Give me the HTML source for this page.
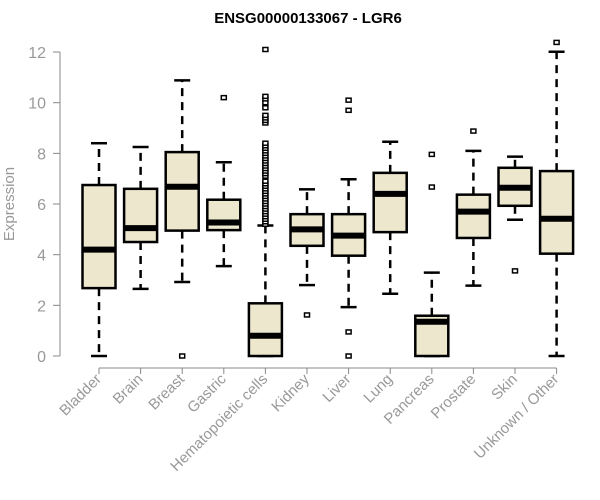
<!DOCTYPE html>
<html><head><meta charset="utf-8"><style>
body{margin:0;background:#fff;}
svg{display:block;font-family:"Liberation Sans",Arial,sans-serif;}
</style></head><body>
<svg id="chart" width="600" height="500" viewBox="0 0 600 500" xmlns="http://www.w3.org/2000/svg">
<text x="308" y="23" text-anchor="middle" font-size="15" font-weight="bold" fill="#000">ENSG00000133067 - LGR6</text>
<text transform="translate(14,204) rotate(-90)" text-anchor="middle" font-size="15" fill="#999">Expression</text>
<g id="plot"></g>
</svg>
<script>
const categories=["Bladder","Brain","Breast","Gastric","Hematopoietic cells","Kidney","Liver","Lung","Pancreas","Prostate","Skin","Unknown / Other"];
const whiskerLow=[0,2.65,2.92,3.55,0,2.8,1.93,2.46,0,2.78,5.38,0];
const q1=[2.68,4.5,4.95,4.97,0,4.35,3.96,4.89,0,4.66,5.93,4.04];
const median=[4.2,5.05,6.68,5.27,0.8,5.0,4.75,6.4,1.35,5.7,6.64,5.42];
const q3=[6.75,6.6,8.05,6.17,2.08,5.6,5.6,7.23,1.59,6.37,7.43,7.3];
const whiskerHigh=[8.4,8.25,10.88,7.65,5.15,6.58,6.98,8.46,3.29,8.1,7.87,12.01];
const outliers=[[],[],[0],[10.2],
[5.2,5.3,5.4,5.5,5.6,5.7,5.8,5.9,6.0,6.1,6.2,6.3,6.4,6.5,6.6,6.7,6.8,6.9,7.1,7.2,7.3,7.4,7.5,7.6,7.7,7.8,7.9,8.0,8.1,8.2,8.3,8.4,9.2,9.3,9.4,9.5,9.8,10.0,10.15,10.25,12.1],
[1.62],[0,0.95,9.7,10.1],[],[6.67,7.96],[8.88],[3.36],[12.38]];
const yTicks=[0,2,4,6,8,10,12];
const NS="http://www.w3.org/2000/svg";
const g=document.getElementById('plot');
const y=v=>356-v*25.33;
const x=i=>99+i*41.6;
function el(t,a){const e=document.createElementNS(NS,t);for(const k in a)e.setAttribute(k,a[k]);g.appendChild(e);return e;}
let ax=el('line',{x1:60,x2:60,y1:y(0),y2:y(12),stroke:'#888'});


yTicks.forEach(t=>{
 let l=el('line',{x1:53,x2:60,y1:y(t),y2:y(t),stroke:'#888'});
 
 
 let tx=el('text',{x:46,y:y(t)+6,'text-anchor':'end','font-size':16,fill:'#999'});tx.textContent=t;
 
 
});
let xa=el('line',{x1:x(0),x2:x(categories.length-1),y1:368,y2:368,stroke:'#888'});


categories.forEach((c,i)=>{
 const cx=x(i),w=16.5;
 let t=el('line',{x1:cx,x2:cx,y1:368,y2:374,stroke:'#888'});
 
 
 let lb=el('text',{transform:`translate(${cx+3},${380}) rotate(-45)`,'text-anchor':'end','font-size':15,fill:'#999'});lb.textContent=c;
 
 
 const dash={stroke:'#000','stroke-width':2.5,'stroke-dasharray':'8,6'};
 let w1=el('line',Object.assign({x1:cx,x2:cx,y1:y(q3[i]),y2:y(whiskerHigh[i])},dash));
 
 
 let w2=el('line',Object.assign({x1:cx,x2:cx,y1:y(q1[i]),y2:y(whiskerLow[i])},dash));
 
 
 let c1=el('line',{x1:cx-8,x2:cx+8,y1:y(whiskerHigh[i]),y2:y(whiskerHigh[i]),stroke:'#000','stroke-width':2.5});
 
 
 let c2=el('line',{x1:cx-8,x2:cx+8,y1:y(whiskerLow[i]),y2:y(whiskerLow[i]),stroke:'#000','stroke-width':2.5});
 
 
 let b=el('rect',{x:cx-w,y:y(q3[i]),width:2*w,height:y(q1[i])-y(q3[i]),fill:'#ede7cd',stroke:'#000','stroke-width':2.5});
 
 
 let m=el('line',{x1:cx-w,x2:cx+w,y1:y(median[i]),y2:y(median[i]),stroke:'#000','stroke-width':6});
 
 
 outliers[i].forEach(v=>{
  let o=el('rect',{x:cx-2.5,y:y(v)-2,width:5,height:4,fill:'#fff',stroke:'#000','stroke-width':1.5});
  
  
 });
});
</script>
</body></html>
